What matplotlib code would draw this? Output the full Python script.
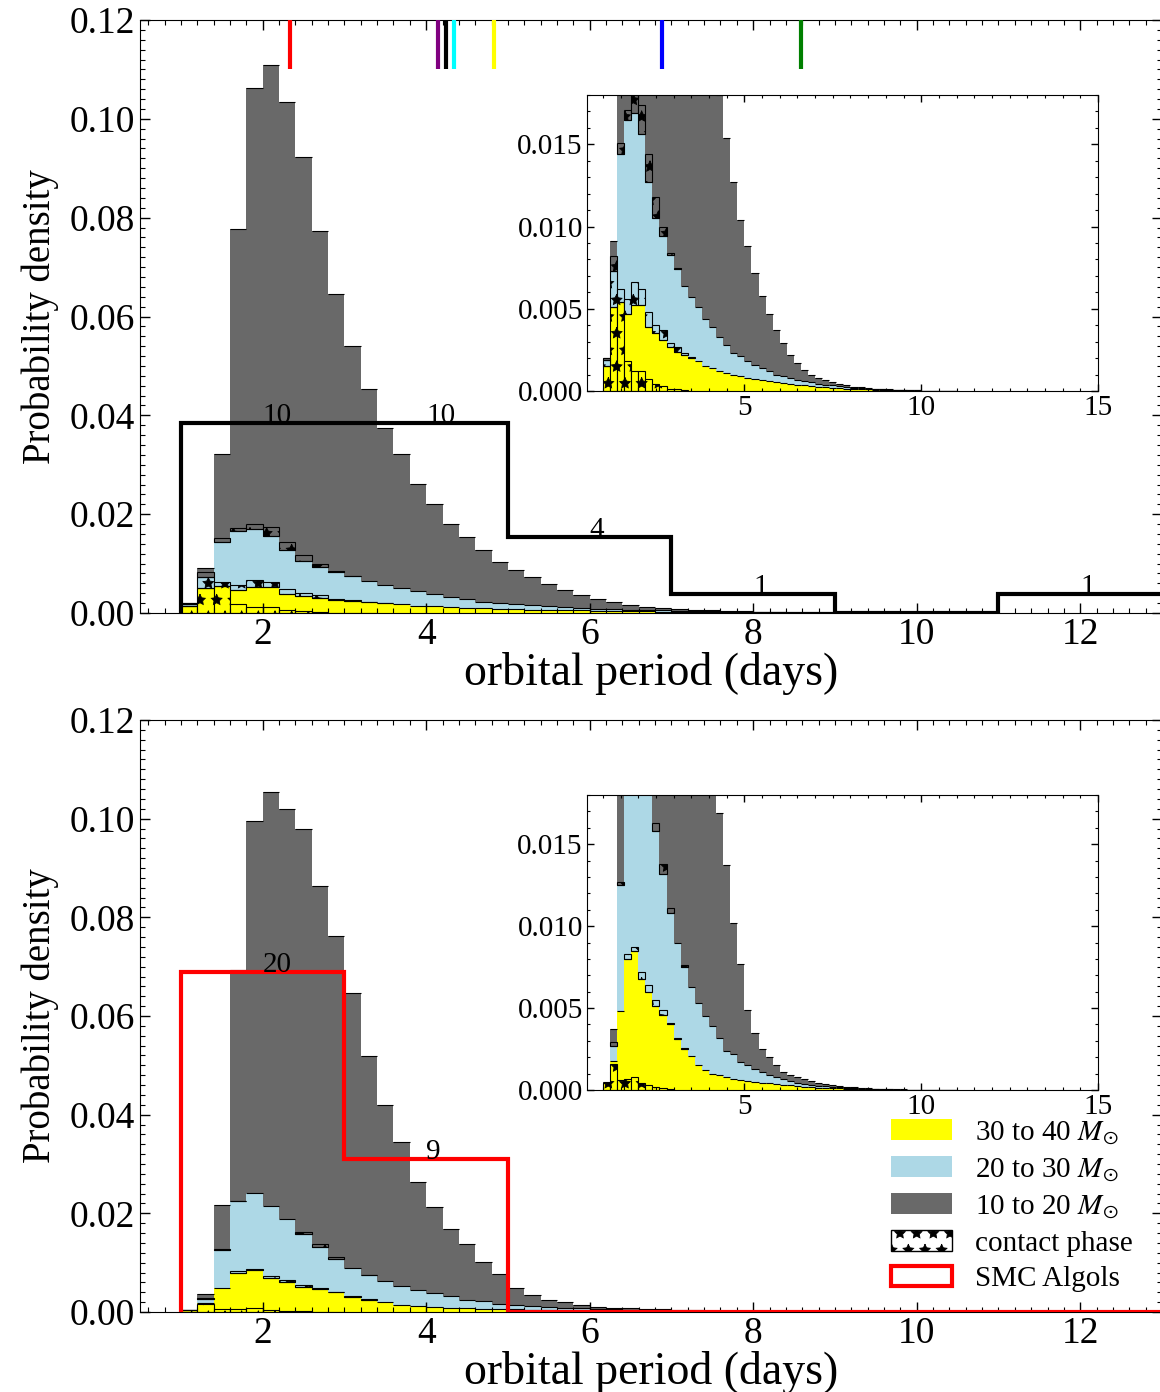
import numpy as np
import matplotlib
matplotlib.use('Agg')
import matplotlib.pyplot as plt
from matplotlib.patches import Patch
from matplotlib.ticker import MultipleLocator

plt.rcParams['font.family'] = ['Liberation Serif', 'DejaVu Serif']
plt.rcParams['mathtext.fontset'] = 'stix'
plt.rcParams['hatch.linewidth'] = 0.6

# period bins of the model histograms (days)
bin_edges = np.round(np.arange(1.0, 11.0001, 0.2), 1)

# top panel: probability density per primary-mass group
top_m30 = [0.0015, 0.0051, 0.0054, 0.0047, 0.0052, 0.0052, 0.0039, 0.0035, 0.0031, 0.0027,
           0.0024, 0.0022, 0.0020, 0.0018, 0.0015, 0.0014, 0.0012, 0.0011, 0.0010, 0.0009,
           0.0008, 0.0007, 0.00067, 0.0006, 0.00055, 0.0005, 0.00043, 0.00038, 0.00034, 0.0003,
           0.00026, 0.00023, 0.0002, 0.00017, 0.00015, 0.00013, 0.00011, 0.0001, 0.00008, 0.00007,
           0.00006, 0.00005, 0.00004, 0.00003, 0.00003, 0.00002, 0.00002, 0.00001, 0.00001, 0.00001]
top_m20 = [0.0004, 0.0022, 0.0090, 0.0118, 0.0117, 0.0104, 0.0088, 0.0070, 0.0063, 0.0056,
           0.0050, 0.0042, 0.0037, 0.0033, 0.0029, 0.0025, 0.0021, 0.0017, 0.0013, 0.0012,
           0.0010, 0.0009, 0.00073, 0.0006, 0.00045, 0.0004, 0.00034, 0.00029, 0.00026, 0.00022,
           0.00019, 0.00016, 0.00014, 0.00012, 0.0001, 0.00008, 0.00007, 0.00005, 0.00005, 0.00004,
           0.00003, 0.00002, 0.00002, 0.00002, 0.00001, 0.00001, 0.00001, 0.00001, 0.00001, 0.0]
top_m10 = [0.0001, 0.0018, 0.0177, 0.0613, 0.0894, 0.0953, 0.0908, 0.0818, 0.0679, 0.0563,
           0.0466, 0.0389, 0.0317, 0.0270, 0.0218, 0.0182, 0.0147, 0.0126, 0.0104, 0.0083,
           0.0070, 0.0056, 0.0044, 0.0035, 0.0027, 0.0020, 0.00143, 0.00103, 0.0007, 0.00048,
           0.00035, 0.00026, 0.00018, 0.00013, 0.00009, 0.00006, 0.00004, 0.00003, 0.00002, 0.00001,
           0.00001, 0.00001, 0.00001, 0.00001, 0.0, 0.0, 0.0, 0.0, 0.0, 0.0]
# contact-phase part of each group (first bins only)
top_c30 = [0.0015, 0.0051, 0.0054, 0.0018, 0.0012, 0.0012, 0.0007, 0.0004, 0.0003, 0.0001,
           0.0001, 0.00005, 0.0, 0.0, 0.0]
top_c20 = [0.0004, 0.0022, 0.0008, 0.0009, 0.0014, 0.0010, 0.0009, 0.0005, 0.0006, 0.0002,
           0.0003, 0.0001, 0.00005, 0.0, 0.0]
top_c10 = [0.0001, 0.0009, 0.0007, 0.0006, 0.0011, 0.0018, 0.0017, 0.0013, 0.0006, 0.0001,
           0.0001, 0.0, 0.0, 0.0, 0.0]

# bottom panel
bot_m30 = [0.0004, 0.0018, 0.0048, 0.0080, 0.0085, 0.0068, 0.0060, 0.0051, 0.0046, 0.0040,
           0.0031, 0.0025, 0.0021, 0.0015, 0.0012, 0.0010, 0.0009, 0.0008, 0.0007, 0.0006,
           0.00057, 0.0005, 0.00045, 0.0004, 0.00036, 0.00032, 0.00028, 0.00024, 0.0002, 0.00018,
           0.00015, 0.00013, 0.00011, 0.0001, 0.00008, 0.00007, 0.00006, 0.00005, 0.00004, 0.00003,
           0.00003, 0.00002, 0.00002, 0.00002, 0.00001, 0.00001, 0.00001, 0.00001, 0.00001, 0.00001]
bot_m20 = [0.0, 0.0009, 0.0077, 0.0144, 0.0156, 0.0147, 0.0128, 0.0107, 0.0086, 0.0068,
           0.0059, 0.0050, 0.0042, 0.0038, 0.0033, 0.0029, 0.0023, 0.0016, 0.0015, 0.0011,
           0.00093, 0.0008, 0.00065, 0.0005, 0.00044, 0.00038, 0.00029, 0.00021, 0.00018, 0.00014,
           0.00012, 0.0001, 0.00008, 0.00006, 0.00005, 0.00004, 0.00003, 0.00003, 0.00002, 0.00002,
           0.00001, 0.00001, 0.00001, 0.00001, 0.00001, 0.00001, 0.00001, 0.00001, 0.00001, 0.00001]
bot_m10 = [0.0001, 0.0010, 0.0092, 0.0470, 0.0754, 0.0840, 0.0832, 0.0821, 0.0731, 0.0655,
           0.0556, 0.0444, 0.0357, 0.0292, 0.0218, 0.0174, 0.0137, 0.0113, 0.0080, 0.0060,
           0.0034, 0.0022, 0.0014, 0.0011, 0.0007, 0.0004, 0.00033, 0.00032, 0.00027, 0.00025,
           0.00018, 0.00014, 0.00011, 0.00009, 0.00007, 0.00005, 0.00004, 0.00002, 0.00002, 0.00002,
           0.00002, 0.00002, 0.00001, 0.0, 0.00001, 0.0, 0.0, 0.0, 0.0, 0.0]
bot_c30 = [0.0004, 0.0016, 0.0006, 0.0007, 0.0008, 0.0004, 0.0003, 0.0002, 0.0001, 0.00005,
           0.0, 0.0, 0.0, 0.0, 0.0]
bot_c20 = [0.0, 0.0, 0.0, 0.0003, 0.0002, 0.0004, 0.0004, 0.0004, 0.0003, 0.0001,
           0.0001, 0.00005, 0.0, 0.0, 0.0]
bot_c10 = [0.0, 0.0002, 0.0002, 0.0002, 0.0, 0.0, 0.0, 0.0005, 0.0006, 0.0003,
           0.0, 0.0001, 0.0, 0.0, 0.0]

# observed systems
obs_edges = [1, 3, 5, 7, 9, 11, 13]
top_obs_counts = [10, 10, 4, 1, 0, 1]
top_obs_density = [0.0385, 0.0385, 0.0154, 0.0038, 0.0, 0.0038]
smc_counts = [20, 9, 0, 0, 0, 0]
smc_density = [0.0690, 0.0310, 0.0, 0.0, 0.0, 0.0]

# individual systems marked at the top of the upper panel
marker_periods = [2.33, 4.14, 4.24, 4.34, 4.83, 6.88, 8.58]
marker_colors = ['red', 'purple', 'black', 'cyan', 'yellow', 'blue', 'green']

groups_colors = ['yellow', 'lightblue', 'dimgray']


def draw_stack(ax, masses, contacts):
    left = bin_edges[:-1]
    base = np.zeros(len(left))
    for m, cc, col in zip(masses, contacts, groups_colors):
        m = np.array(m)
        c = np.zeros(len(left))
        c[:len(cc)] = cc
        ax.stairs(base + m, bin_edges, baseline=base + c, fill=True, color=col, lw=0)
        has = c > 0
        ax.bar(left[has], c[has], width=0.2, bottom=base[has], align='edge',
               facecolor=col, edgecolor='k', hatch='*', linewidth=0.8)
        base = base + m
        ax.hlines(base, left, left + 0.2, color='k', lw=0.8)


def style_main(ax):
    ax.set_xlim(0.5, 13)
    ax.set_ylim(0, 0.12)
    ax.set_xticks([2, 4, 6, 8, 10, 12])
    ax.set_yticks([0, 0.02, 0.04, 0.06, 0.08, 0.10, 0.12])
    ax.set_yticklabels(['0.00', '0.02', '0.04', '0.06', '0.08', '0.10', '0.12'])
    ax.xaxis.set_minor_locator(MultipleLocator(0.2))
    ax.yaxis.set_minor_locator(MultipleLocator(0.002))
    ax.tick_params(which='both', direction='in', top=True, right=True, labelsize=27)
    ax.tick_params(which='major', length=7, width=1)
    ax.tick_params(which='minor', length=3.5, width=0.8)
    ax.set_xlabel('orbital period (days)', fontsize=33, labelpad=0)
    ax.set_ylabel('Probability density', fontsize=28, labelpad=8)


def style_inset(ax):
    ax.set_xlim(0.55, 15)
    ax.set_ylim(0, 0.018)
    ax.set_xticks([5, 10, 15])
    ax.set_yticks([0, 0.005, 0.010, 0.015])
    ax.set_yticklabels(['0.000', '0.005', '0.010', '0.015'])
    ax.xaxis.set_minor_locator(MultipleLocator(0.5))
    ax.yaxis.set_minor_locator(MultipleLocator(0.001))
    ax.tick_params(which='both', direction='in', top=True, right=True, labelsize=21, pad=3)
    ax.tick_params(which='major', length=5, width=1)
    ax.tick_params(which='minor', length=2.5, width=0.8)


fig = plt.figure(figsize=(11.6, 13.92), dpi=100)
W, H = 1160.0, 1392.0

ax1 = fig.add_axes([140 / W, 1 - 613 / H, 1022 / W, 593 / H])
ax2 = fig.add_axes([140 / W, 1 - 1312 / H, 1022 / W, 592 / H])
in1 = fig.add_axes([587 / W, 1 - 391 / H, 511 / W, 296 / H])
in2 = fig.add_axes([587 / W, 1 - 1090 / H, 511 / W, 295 / H])

top_masses = [top_m30, top_m20, top_m10]
top_contacts = [top_c30, top_c20, top_c10]
bot_masses = [bot_m30, bot_m20, bot_m10]
bot_contacts = [bot_c30, bot_c20, bot_c10]

draw_stack(ax1, top_masses, top_contacts)
draw_stack(in1, top_masses, top_contacts)
draw_stack(ax2, bot_masses, bot_contacts)
draw_stack(in2, bot_masses, bot_contacts)

# observed histograms
ax1.stairs(top_obs_density, obs_edges, color='k', lw=3, zorder=5)
ax2.stairs(smc_density, obs_edges, color='red', lw=3, zorder=5)
for i in range(len(top_obs_counts)):
    if top_obs_counts[i] > 0:
        ax1.text((obs_edges[i] + obs_edges[i + 1]) / 2, top_obs_density[i],
                 str(top_obs_counts[i]), ha='left', va='baseline', fontsize=21, zorder=6)
for i in range(len(smc_counts)):
    if smc_counts[i] > 0:
        ax2.text((obs_edges[i] + obs_edges[i + 1]) / 2, smc_density[i],
                 str(smc_counts[i]), ha='left', va='baseline', fontsize=21, zorder=6)

ax1.vlines(marker_periods, 0.110, 0.12, colors=marker_colors, lw=3, zorder=6)

style_main(ax1)
style_main(ax2)
style_inset(in1)
style_inset(in2)

handles = [Patch(facecolor='yellow', edgecolor='none'),
           Patch(facecolor='lightblue', edgecolor='none'),
           Patch(facecolor='dimgray', edgecolor='none'),
           Patch(facecolor='white', edgecolor='k', hatch='*', linewidth=1),
           Patch(facecolor='white', edgecolor='red', linewidth=3)]
labels = [r'30 to 40 $M_{\odot}$', r'20 to 30 $M_{\odot}$', r'10 to 20 $M_{\odot}$',
          'contact phase', 'SMC Algols']
ax2.legend(handles, labels, loc='upper left', bbox_to_anchor=(885 / W, 1 - 1113 / H),
           bbox_transform=fig.transFigure, frameon=False, fontsize=21,
           handlelength=2.1, handletextpad=0.8, labelspacing=0.32,
           borderpad=0.2, borderaxespad=0)

fig.savefig('out.png', dpi=100)
